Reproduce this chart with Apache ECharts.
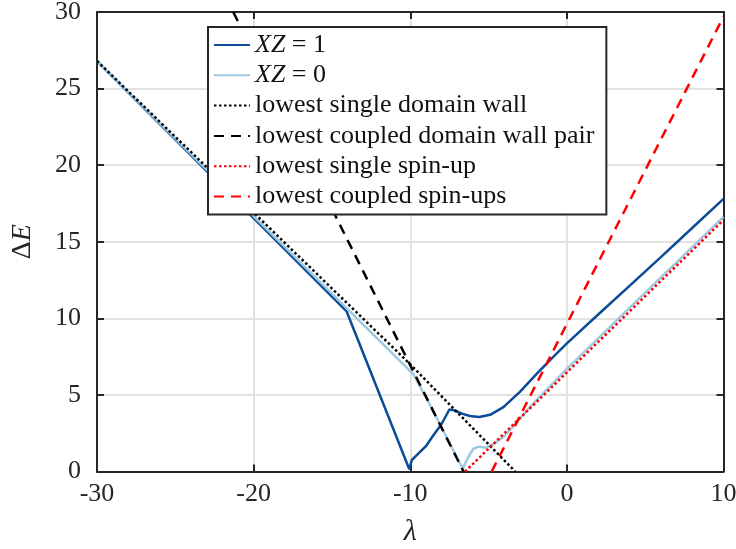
<!DOCTYPE html>
<html>
<head>
<meta charset="utf-8">
<script src="https://cdn.jsdelivr.net/npm/echarts@6/dist/echarts.min.js"></script>
<style>
  html, body { margin: 0; padding: 0; background: #fff; }
  #chart { width: 736px; height: 549px; }
</style>
</head>
<body>
<div id="chart"></div>
<script>
// lambda / Delta E pairs
const xz1 = [[-30, 26.8], [-14.06, 10.45], [-10.06, 0.15], [-9.9, 0.75], [-9.6, 1.05],
  [-9.0, 1.65], [-8.6, 2.25], [-8.0, 3.1], [-7.5, 4.05], [-7.2, 4.0], [-6.7, 3.78],
  [-6.2, 3.62], [-5.6, 3.56], [-4.9, 3.7], [-4.05, 4.2], [-3.0, 5.2], [-1.9, 6.4],
  [-0.9, 7.45], [0, 8.37], [2, 10.25], [4, 12.12], [6, 14.0], [8, 15.9], [10, 17.8]];
const xz0 = [[-30, 26.8], [-10.05, 6.6], [-9.8, 6.35], [-8.74, 4.34], [-6.65, 0.18],
  [-6.3, 0.95], [-5.95, 1.5], [-5.6, 1.62], [-5.2, 1.55], [-4.6, 1.85], [-4.0, 2.3],
  [-3.5, 2.85], [-3.0, 3.45], [-2.0, 4.6], [0, 6.7], [5, 11.68], [10, 16.62]];
const singleWall = [[-30, 26.8], [-10, 7.0], [-3.3, 0]];
const wallPair = [[-21.3, 30], [-6.6, 0]];
const singleSpin = [[-6.5, 0], [10, 16.42]];
const coupledSpins = [[-4.8, 0], [10, 29.7]];

const names = ['XZ = 1', 'XZ = 0', 'lowest single domain wall',
  'lowest coupled domain wall pair', 'lowest single spin-up', 'lowest coupled spin-ups'];

const serif = '"Liberation Serif", "DejaVu Serif", serif';
const ink = '#262626';

function line(name, data, color, type, width) {
  return {
    name: name,
    type: 'line',
    data: data,
    symbol: 'none',
    clip: true,
    lineStyle: { color: color, width: width, type: type, cap: 'butt' },
    itemStyle: { color: color }
  };
}

function frameAxis(extra) {
  return Object.assign({
    type: 'value',
    axisLine: { show: true, onZero: false, lineStyle: { color: ink, width: 2 } },
    axisTick: { inside: true, length: 7, lineStyle: { color: ink, width: 2 } },
    axisLabel: { show: false },
    splitLine: { show: false }
  }, extra);
}

const chart = echarts.init(document.getElementById('chart'));
chart.setOption({
  animation: false,
  backgroundColor: '#fff',
  grid: { left: 97, right: 12.5, top: 12, bottom: 77.5, outerBoundsMode: 'none', containLabel: false },
  legend: {
    data: names,
    orient: 'vertical',
    left: 208,
    top: 27,
    padding: [5, 12, 5, 5],
    itemWidth: 36,
    itemHeight: 14,
    itemGap: 4.3,
    itemStyle: { opacity: 0 },
    backgroundColor: '#fff',
    borderColor: ink,
    borderWidth: 2,
    borderRadius: 0,
    textStyle: {
      fontFamily: serif, fontSize: 26, color: '#111', lineHeight: 26,
      rich: { it: { fontFamily: serif, fontSize: 26, fontStyle: 'italic', color: '#111' } }
    },
    formatter: function (n) {
      return n.indexOf('XZ') === 0 ? '{it|XZ} ' + n.slice(3) : n;
    }
  },
  xAxis: [frameAxis({
    min: -30, max: 10, interval: 10,
    name: 'λ', nameLocation: 'middle', nameGap: 46,
    nameTextStyle: { fontFamily: serif, fontSize: 30, fontStyle: 'italic', color: ink },
    axisLabel: { show: true, fontFamily: serif, fontSize: 26, color: ink, margin: 10 },
    splitLine: { show: true, lineStyle: { color: '#e2e2e2', width: 2 } }
  }), frameAxis({
    min: -30, max: 10, interval: 10, position: 'top'
  })],
  yAxis: [frameAxis({
    min: 0, max: 30, interval: 5,
    name: '{d|Δ}{e|E}', nameLocation: 'middle', nameGap: 60, nameRotate: 90,
    nameTextStyle: {
      fontFamily: serif, fontSize: 28, color: ink,
      rich: {
        d: { fontFamily: serif, fontSize: 28, color: ink },
        e: { fontFamily: serif, fontSize: 28, fontStyle: 'italic', color: ink }
      }
    },
    axisLabel: { show: true, fontFamily: serif, fontSize: 26, color: ink, margin: 16 },
    splitLine: { show: true, lineStyle: { color: '#e2e2e2', width: 2 } }
  }), frameAxis({
    min: 0, max: 30, interval: 5, position: 'right'
  })],
  series: [
    line(names[0], xz1, '#0b4c99', 'solid', 2.5),
    line(names[1], xz0, '#9ecae1', 'solid', 2.5),
    line(names[2], singleWall, '#000000', [2.5, 2.5], 2.5),
    line(names[3], wallPair, '#000000', [10, 7], 2.5),
    line(names[4], singleSpin, '#ff0000', [2.5, 2.5], 2.5),
    line(names[5], coupledSpins, '#ff0000', [10, 7], 2.5)
  ]
});
</script>
</body>
</html>
